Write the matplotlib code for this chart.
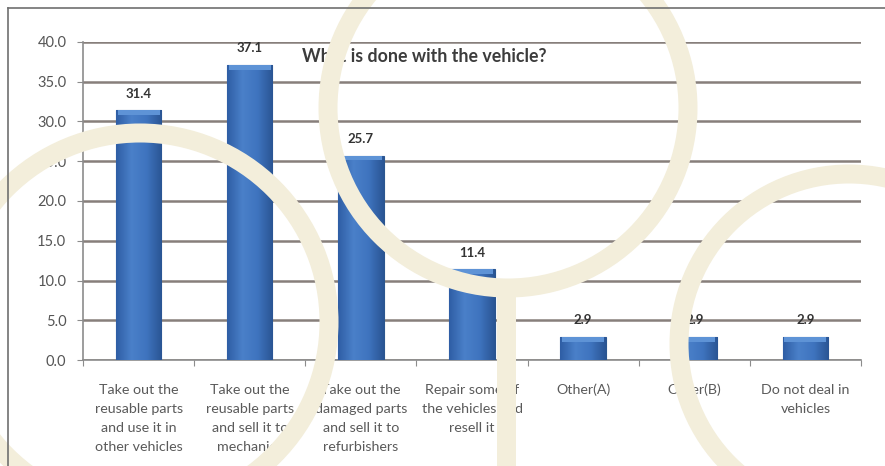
import numpy as np
import matplotlib
matplotlib.use("Agg")
import matplotlib.pyplot as plt
from matplotlib.patches import Circle, Rectangle
from matplotlib.colors import LinearSegmentedColormap

# data
categories = ["Take out the\nreusable parts\nand use it in\nother vehicles",
              "Take out the\nreusable parts\nand sell it to\nmechanics",
              "Take out the\ndamaged parts\nand sell it to\nrefurbishers",
              "Repair some of\nthe vehicles and\nresell it",
              "Other(A)",
              "Other(B)",
              "Do not deal in\nvehicles"]
values = [31.4, 37.1, 25.7, 11.4, 2.9, 2.9, 2.9]
title = "What is done with the vehicle?"
yticks = np.arange(0, 45, 5)

plt.rcParams['font.family'] = ['Lato', 'DejaVu Sans']

W, H = 885, 466
fig = plt.figure(figsize=(W/100, H/100), dpi=100)
fig.patch.set_facecolor('white')

# plot area (pixels -> fraction)
ax = fig.add_axes([83/W, 1-360/H, (861-83)/W, (360-42)/H])
x = np.arange(len(values))
bars = ax.bar(x, values, width=0.41, color='#3b6db6', edgecolor='#2b568f',
              linewidth=0.8, zorder=3)

# horizontal shading in each bar + light bevel at the top
cmap = LinearSegmentedColormap.from_list('bar', ['#2f5ea5', '#4a80c9', '#3f74bf', '#2a5594'])
grad = np.linspace(0, 1, 64).reshape(1, -1)
for b in bars:
    bx, bw, bh = b.get_x(), b.get_width(), b.get_height()
    im = ax.imshow(grad, cmap=cmap, aspect='auto', zorder=3.5,
                   extent=(bx, bx+bw, 0, bh), interpolation='bilinear')
    im.set_clip_path(b)
    cap = min(0.6, bh*0.2)
    ax.bar(b.get_x()+bw/2, cap, width=bw*0.92, bottom=bh-cap, color='#5e93d6',
           linewidth=0, zorder=4)

for xi, v in zip(x, values):
    ax.annotate(f"{v:.1f}", (xi, v), xytext=(0, 12), textcoords='offset points',
                ha='center', va='center', fontsize=9.5, fontweight='bold', color='#333333',
                zorder=5)

ax.set_xlim(-0.5, len(values)-0.5)
ax.set_ylim(0, 40)
ax.set_yticks(yticks)
ax.set_yticklabels([f"{t:.1f}" for t in yticks], fontsize=10.5, color='#555555')
ax.yaxis.grid(True, color='#877f7b', linewidth=1.8, zorder=0)
ax.set_axisbelow(True)

ax.set_xticks(np.arange(-0.5, len(values)), labels=[])
ax.set_xticks(x, labels=categories, minor=True)
ax.tick_params(axis='x', which='major', length=4, color='#8c8c8c', direction='out')
ax.tick_params(axis='x', which='minor', length=0, pad=17, labelsize=10.3,
               labelcolor='#5a5a5a')
for lab in ax.get_xticklabels(minor=True):
    lab.set_linespacing(1.72)
ax.tick_params(axis='y', length=4, color='#8c8c8c', pad=8)

for s in ['top', 'right']:
    ax.spines[s].set_visible(False)
ax.spines['left'].set_color('#8c8c8c')
ax.spines['bottom'].set_color('#8c8c8c')
ax.spines['left'].set_linewidth(1.2)
ax.spines['bottom'].set_linewidth(1.2)

fig.text(424/W, 1-57/H, title, ha='center', va='center', fontsize=12.8,
         fontweight='bold', color='#3c3c3c')

# overlay in pixel coordinates: frame and decorative rings
ov = fig.add_axes([0, 0, 1, 1], zorder=10)
ov.set_xlim(0, W)
ov.set_ylim(H, 0)
ov.axis('off')
ov.patch.set_alpha(0)
ov.plot([7.5, W], [7.5, 7.5], color='#707070', lw=1.2)
ov.plot([7.5, 7.5], [7.5, H], color='#707070', lw=1.2)

cream = '#f3eedb'
lw_px = 19
for cx, cy, r in [(508, 108, 180), (140, 322, 189), (849, 344, 170)]:
    ov.add_patch(Circle((cx, cy), r, fill=False, edgecolor=cream,
                        linewidth=lw_px*0.72))
ov.add_patch(Rectangle((497, 288), 19, H-288, facecolor=cream, edgecolor='none'))

fig.savefig('out.png', dpi=100)
